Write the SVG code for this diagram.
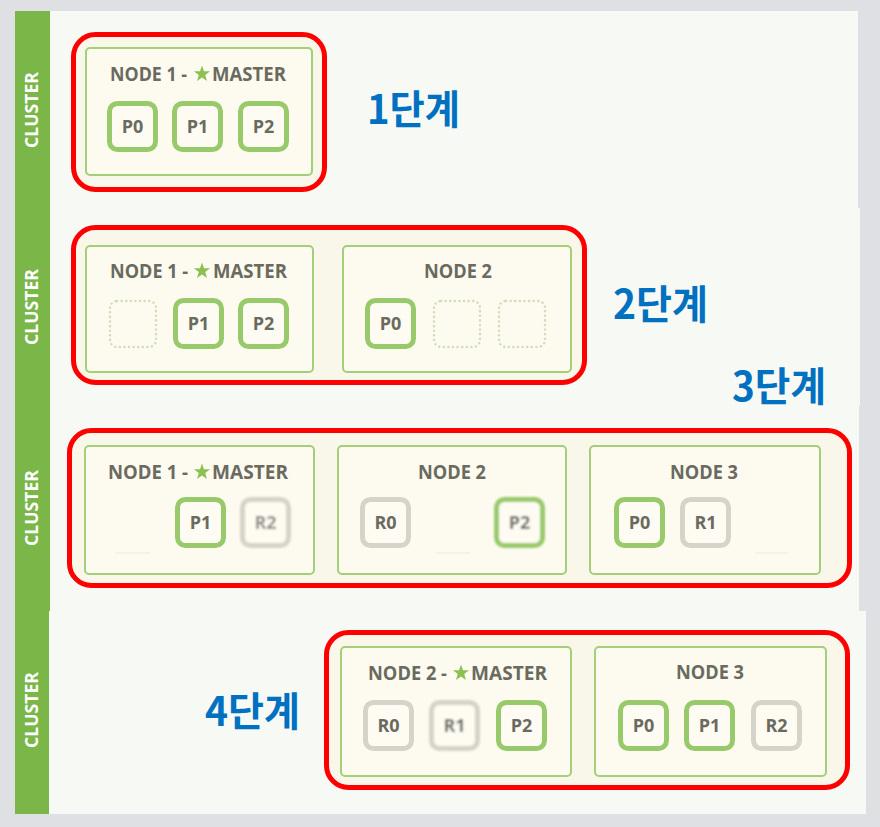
<svg xmlns="http://www.w3.org/2000/svg" xmlns:xlink="http://www.w3.org/1999/xlink" width="880" height="827" viewBox="0 0 880 827">
<defs>
<style>
.bg{fill:#dfe0e3}
.panel{fill:#f7f9f4}
.bar{fill:#7ab648}
.cl{font-family:"Open Sans","Liberation Sans",sans-serif;font-weight:bold;font-size:17px;fill:#ffffff;text-anchor:middle}
.red{fill:#f8f7e9;stroke:#ff0000;stroke-width:5}
.node{fill:#fdfbf0;stroke:#a3cf78;stroke-width:2}
.title{font-family:"Open Sans","Liberation Sans",sans-serif;font-weight:bold;font-size:19px;fill:#6a6a5e}
.p{fill:#fdfbf2;stroke:#98c96a;stroke-width:5}
.r{fill:#fdfbf2;stroke:#d6d3c8;stroke-width:5}
.e{fill:none;stroke:#d3dcbc;stroke-width:2.5;stroke-dasharray:0.1 4.5;stroke-linecap:round}
.lbl{font-family:"Open Sans","Liberation Sans",sans-serif;font-weight:bold;font-size:18px;fill:#6b6a5f;text-anchor:middle}
.step{font-family:"Noto Sans CJK KR","Noto Sans",sans-serif;font-weight:bold;font-size:40px;fill:#0070c0}
.faint{stroke:#ebe9dc;stroke-width:1}
.star{fill:#8cc152}
</style>
<polygon id="star" class="star" points="0,-8.5 2,-2.75 8.08,-2.63 3.23,1.05 5,6.88 0,3.4 -5,6.88 -3.23,1.05 -8.08,-2.63 -2,-2.75"/>
<filter id="blur" x="-20%" y="-20%" width="140%" height="140%"><feGaussianBlur stdDeviation="1"/></filter>
</defs>
<rect class="bg" x="0" y="0" width="880" height="827"/>

<!-- panels -->
<g id="panel1">
<rect class="panel" x="15" y="11" width="843" height="197"/>
<rect class="bar" x="15" y="11" width="35" height="197"/>
<text class="cl" transform="translate(38,110) rotate(-90)" textLength="76" lengthAdjust="spacingAndGlyphs">CLUSTER</text>
</g>
<g id="panel2">
<rect class="panel" x="15" y="208" width="845" height="198"/>
<rect class="bar" x="15" y="208" width="35" height="198"/>
<text class="cl" transform="translate(38,307) rotate(-90)" textLength="76" lengthAdjust="spacingAndGlyphs">CLUSTER</text>
</g>
<g id="panel3">
<rect class="panel" x="15" y="406" width="844" height="205"/>
<rect class="bar" x="15" y="406" width="35" height="205"/>
<text class="cl" transform="translate(38,508) rotate(-90)" textLength="76" lengthAdjust="spacingAndGlyphs">CLUSTER</text>
</g>
<g id="panel4">
<rect class="panel" x="15" y="611" width="851" height="203"/>
<rect class="bar" x="15" y="611" width="34" height="203"/>
<text class="cl" transform="translate(38,710) rotate(-90)" textLength="76" lengthAdjust="spacingAndGlyphs">CLUSTER</text>
</g>

<!-- step 1 -->
<g id="step1">
<rect class="red" x="73.5" y="34.5" width="251" height="155" rx="22"/>
<g id="s1-node1">
<rect class="node" x="86" y="48" width="226" height="127" rx="4"/>
<text class="title" x="110" y="81" textLength="77" lengthAdjust="spacingAndGlyphs">NODE 1 -</text>
<use xlink:href="#star" x="202" y="74"/>
<text class="title" x="212" y="81" textLength="74" lengthAdjust="spacingAndGlyphs">MASTER</text>
<rect class="p" x="109.5" y="103.5" width="46" height="46" rx="8"/><text class="lbl" x="132.5" y="133">P0</text>
<rect class="p" x="174.5" y="103.5" width="46" height="46" rx="8"/><text class="lbl" x="197.5" y="133">P1</text>
<rect class="p" x="240.5" y="103.5" width="46" height="46" rx="8"/><text class="lbl" x="263.5" y="133">P2</text>
</g>
<text class="step" x="367" y="124" textLength="93" lengthAdjust="spacingAndGlyphs">1단계</text>
</g>

<!-- step 2 -->
<g id="step2">
<rect class="red" x="73.5" y="227.5" width="511" height="155" rx="22"/>
<g id="s2-node1">
<rect class="node" x="86" y="246" width="227" height="126" rx="4"/>
<text class="title" x="110" y="278" textLength="78" lengthAdjust="spacingAndGlyphs">NODE 1 -</text>
<use xlink:href="#star" x="202" y="271"/>
<text class="title" x="213" y="278" textLength="74" lengthAdjust="spacingAndGlyphs">MASTER</text>
<rect class="e" x="110" y="301" width="46" height="46" rx="7"/>
<rect class="p" x="175.5" y="300.5" width="46" height="46" rx="8"/><text class="lbl" x="198.5" y="330">P1</text>
<rect class="p" x="240.5" y="300.5" width="46" height="46" rx="8"/><text class="lbl" x="263.5" y="330">P2</text>
</g>
<g id="s2-node2">
<rect class="node" x="343" y="246" width="228" height="126" rx="4"/>
<text class="title" x="458" y="278" text-anchor="middle" textLength="68" lengthAdjust="spacingAndGlyphs">NODE 2</text>
<rect class="p" x="367.5" y="300.5" width="46" height="46" rx="8"/><text class="lbl" x="390.5" y="330">P0</text>
<rect class="e" x="434" y="301" width="46" height="46" rx="7"/>
<rect class="e" x="499" y="301" width="46" height="46" rx="7"/>
</g>
<text class="step" x="613" y="319" textLength="95" lengthAdjust="spacingAndGlyphs">2단계</text>
</g>

<!-- step 3 -->
<g id="step3">
<rect class="red" x="69.5" y="430.5" width="780" height="155" rx="22"/>
<g id="s3-node1">
<rect class="node" x="85" y="446" width="229" height="128" rx="4"/>
<text class="title" x="108" y="479" textLength="80" lengthAdjust="spacingAndGlyphs">NODE 1 -</text>
<use xlink:href="#star" x="202" y="472"/>
<text class="title" x="212" y="479" textLength="76" lengthAdjust="spacingAndGlyphs">MASTER</text>
<rect class="p" x="177.5" y="499.5" width="46" height="46" rx="8"/><text class="lbl" x="200.5" y="529">P1</text>
<g filter="url(#blur)"><rect class="r" x="242.5" y="499.5" width="46" height="46" rx="8"/><text class="lbl" x="265.5" y="529" style="fill:#8f8e85">R2</text></g>
<line class="faint" x1="115" y1="553" x2="150" y2="553"/>
</g>
<g id="s3-node2">
<rect class="node" x="338" y="446" width="228" height="128" rx="4"/>
<text class="title" x="452" y="479" text-anchor="middle" textLength="68" lengthAdjust="spacingAndGlyphs">NODE 2</text>
<rect class="r" x="362.5" y="499.5" width="46" height="46" rx="8"/><text class="lbl" x="385.5" y="529">R0</text>
<g filter="url(#blur)"><rect class="p" x="496.5" y="499.5" width="46" height="46" rx="8"/><text class="lbl" x="519.5" y="529">P2</text></g>
<line class="faint" x1="436" y1="553" x2="470" y2="553"/>
</g>
<g id="s3-node3">
<rect class="node" x="590" y="446" width="230" height="128" rx="4"/>
<text class="title" x="704" y="479" text-anchor="middle" textLength="68" lengthAdjust="spacingAndGlyphs">NODE 3</text>
<rect class="p" x="616.5" y="499.5" width="46" height="46" rx="8"/><text class="lbl" x="639.5" y="529">P0</text>
<rect class="r" x="682.5" y="499.5" width="46" height="46" rx="8"/><text class="lbl" x="705.5" y="529">R1</text>
<line class="faint" x1="755" y1="553" x2="788" y2="553"/>
</g>
<text class="step" x="732" y="401" textLength="94" lengthAdjust="spacingAndGlyphs">3단계</text>
</g>

<!-- step 4 -->
<g id="step4">
<rect class="red" x="326.5" y="632.5" width="521" height="155" rx="22"/>
<g id="s4-node2">
<rect class="node" x="341" y="647" width="230" height="129" rx="4"/>
<text class="title" x="368" y="680" textLength="79" lengthAdjust="spacingAndGlyphs">NODE 2 -</text>
<use xlink:href="#star" x="461" y="673"/>
<text class="title" x="471" y="680" textLength="76" lengthAdjust="spacingAndGlyphs">MASTER</text>
<rect class="r" x="365.5" y="702.5" width="46" height="46" rx="8"/><text class="lbl" x="388.5" y="732">R0</text>
<g filter="url(#blur)"><rect class="r" x="431.5" y="702.5" width="46" height="46" rx="8"/><text class="lbl" x="454.5" y="732">R1</text></g>
<rect class="p" x="498.5" y="702.5" width="46" height="46" rx="8"/><text class="lbl" x="521.5" y="732">P2</text>
</g>
<g id="s4-node3">
<rect class="node" x="595" y="647" width="231" height="129" rx="4"/>
<text class="title" x="710" y="679" text-anchor="middle" textLength="68" lengthAdjust="spacingAndGlyphs">NODE 3</text>
<rect class="p" x="620.5" y="702.5" width="46" height="46" rx="8"/><text class="lbl" x="643.5" y="732">P0</text>
<rect class="p" x="686.5" y="702.5" width="46" height="46" rx="8"/><text class="lbl" x="709.5" y="732">P1</text>
<rect class="r" x="753.5" y="702.5" width="46" height="46" rx="8"/><text class="lbl" x="776.5" y="732">R2</text>
</g>
<text class="step" x="205" y="726" textLength="95" lengthAdjust="spacingAndGlyphs">4단계</text>
</g>

<g id="connectors"/>
</svg>
